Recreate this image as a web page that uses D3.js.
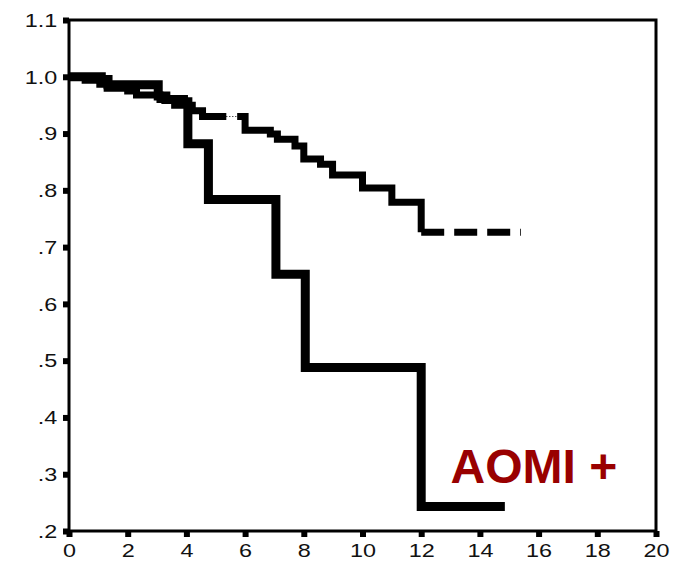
<!DOCTYPE html>
<html>
<head>
<meta charset="utf-8">
<script src="https://cdn.jsdelivr.net/npm/d3@7"></script>
<style>
  html, body { margin: 0; padding: 0; background: #fff; }
  svg { display: block; }
  text { font-family: Arial, "Liberation Sans", sans-serif; }
</style>
</head>
<body>
<svg id="chart" width="679" height="562"></svg>
<script>
// ---- data ----
const xTicks = [0, 2, 4, 6, 8, 10, 12, 14, 16, 18, 20];
const yTicks = [1.1, 1.0, 0.9, 0.8, 0.7, 0.6, 0.5, 0.4, 0.3, 0.2];
const yTickLabels = ["1.1", "1.0", ".9", ".8", ".7", ".6", ".5", ".4", ".3", ".2"];

// AOMI + (thick solid curve)
const posTimes = [0, 1.1, 1.33, 3.04, 3.3, 3.9, 4.05, 4.75, 7.05, 8.05, 12.0, 14.85];
const posSurv  = [1.0, 0.995, 0.986, 0.966, 0.96, 0.956, 0.882, 0.784, 0.652, 0.488, 0.243, 0.243];

// AOMI - (dashed curve)
const negTimes = [0, 0.55, 1.05, 1.3, 2.0, 2.3, 3.1, 3.6, 4.2, 4.55, 6.0, 6.86, 7.1, 7.7, 8.0, 8.57, 8.98, 10.0, 11.0, 12.0, 15.4];
const negSurv  = [1.0, 0.994, 0.987, 0.98, 0.975, 0.968, 0.96, 0.95, 0.94, 0.93, 0.906, 0.899, 0.89, 0.878, 0.855, 0.846, 0.827, 0.804, 0.779, 0.726, 0.726];
const negDottedRange = [5.36, 5.73];   // thin dotted stretch of the AOMI - curve
const negDashedFrom = 12.0;            // dashed tail of the AOMI - curve

const labelText = "AOMI +";

// ---- layout ----
const svg = d3.select("#chart");
const x = d3.scaleLinear().domain([0, 20]).range([69, 656]);
const y = d3.scaleLinear().domain([0.2, 1.1]).range([531, 20]);

svg.append("rect").attr("width", 679).attr("height", 562).attr("fill", "#fff");

// frame
svg.append("rect")
  .attr("x", x(0)).attr("y", y(1.1))
  .attr("width", x(20) - x(0)).attr("height", y(0.2) - y(1.1))
  .attr("fill", "none").attr("stroke", "#000").attr("stroke-width", 3);

// y axis
const yAxis = svg.append("g").attr("transform", `translate(${x(0)},0)`)
  .call(d3.axisLeft(y).tickValues(yTicks).tickSize(6).tickFormat((d, i) => yTickLabels[i]));
yAxis.select(".domain").remove();
yAxis.selectAll(".tick line").attr("stroke", "#000").attr("stroke-width", 6).attr("x1", 0);
yAxis.selectAll(".tick text")
  .attr("x", -9).attr("dy", "0.35em")
  .attr("transform", "scale(1.3,1)")
  .attr("font-size", 18).attr("fill", "#111");

// x axis
const xAxis = svg.append("g").attr("transform", `translate(0,${y(0.2)})`)
  .call(d3.axisBottom(x).tickValues(xTicks).tickSize(6).tickFormat(d3.format("d")));
xAxis.select(".domain").remove();
xAxis.selectAll(".tick line").attr("stroke", "#000").attr("stroke-width", 6);
xAxis.selectAll(".tick text")
  .attr("y", 20).attr("dy", "0.35em")
  .attr("transform", "scale(1.3,1)")
  .attr("font-size", 18).attr("fill", "#111");

// curves
const line = d3.line().x(d => x(d[0])).y(d => y(d[1])).curve(d3.curveStepAfter);
const posData = posTimes.map((t, i) => [t, posSurv[i]]);
const negData = negTimes.map((t, i) => [t, negSurv[i]]);

function survAt(data, t) {
  let v = data[0][1];
  for (const d of data) { if (d[0] <= t) v = d[1]; }
  return v;
}
function slice(data, t0, t1) {
  const pts = [[t0, survAt(data, t0)]];
  data.forEach(d => { if (d[0] > t0 && d[0] < t1) pts.push(d); });
  pts.push([t1, survAt(data, t1)]);
  return pts;
}

const negPart1 = slice(negData, 0, negDottedRange[0]);
const negDotted = slice(negData, negDottedRange[0], negDottedRange[1]);
const negPart2 = slice(negData, negDottedRange[1], negDashedFrom);
negPart2.push([negDashedFrom, survAt(negData, negDashedFrom) + 0.012]);
const negTail = slice(negData, negDashedFrom, negTimes[negTimes.length - 1]);

const g = svg.append("g").attr("fill", "none").attr("stroke", "#000").attr("stroke-linejoin", "miter");
g.append("path").attr("d", line(negPart1)).attr("stroke-width", 7);
g.append("path").attr("d", line(negDotted)).attr("stroke-width", 1).attr("stroke-dasharray", "1,2");
g.append("path").attr("d", line(negPart2)).attr("stroke-width", 7);
g.append("path").attr("d", line(negTail)).attr("stroke-width", 7).attr("stroke-dasharray", "23,10");
g.append("path").attr("d", line(posData)).attr("stroke-width", 9);

// label
svg.append("text")
  .attr("x", x(13.0)).attr("y", y(0.285))
  .attr("font-size", 48).attr("font-weight", "bold")
  .attr("fill", "#990000")
  .text(labelText);
</script>
</body>
</html>
